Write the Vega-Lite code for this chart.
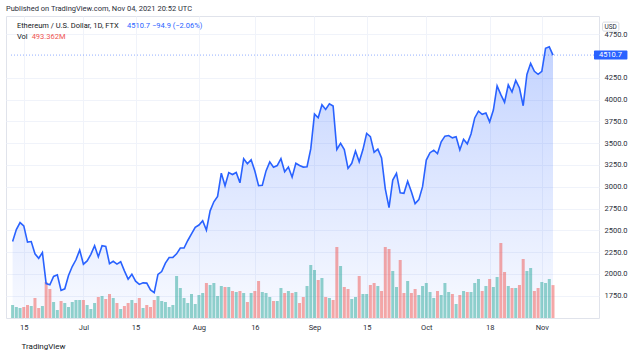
{
  "$schema": "https://vega.github.io/schema/vega-lite/v6.json",
  "width": 593,
  "height": 302,
  "autosize": "none",
  "padding": {"left": 6, "top": 16, "right": 41, "bottom": 40},
  "background": "#ffffff",
  "config": {
    "font": "Roboto",
    "view": {"stroke": "#e0e3eb", "strokeWidth": 1},
    "axis": {"labelFont": "Roboto", "titleFont": "Roboto"}
  },
  "title": {
    "text": "Published on TradingView.com, Nov 04, 2021 20:52 UTC",
    "anchor": "start",
    "frame": "group",
    "fontSize": 7.5,
    "fontWeight": "normal",
    "color": "#2a2e39",
    "offset": 4
  },
  "datasets": {
    "eth": [
      {"date": "2021-06-12", "close": 2372, "vol": 195, "dir": "u"},
      {"date": "2021-06-13", "close": 2510, "vol": 165, "dir": "u"},
      {"date": "2021-06-14", "close": 2590, "vol": 150, "dir": "u"},
      {"date": "2021-06-15", "close": 2552, "vol": 165, "dir": "d"},
      {"date": "2021-06-16", "close": 2366, "vol": 195, "dir": "d"},
      {"date": "2021-06-17", "close": 2372, "vol": 180, "dir": "u"},
      {"date": "2021-06-18", "close": 2232, "vol": 300, "dir": "d"},
      {"date": "2021-06-19", "close": 2180, "vol": 150, "dir": "d"},
      {"date": "2021-06-20", "close": 2245, "vol": 180, "dir": "u"},
      {"date": "2021-06-21", "close": 1890, "vol": 540, "dir": "d"},
      {"date": "2021-06-22", "close": 1875, "vol": 435, "dir": "d"},
      {"date": "2021-06-23", "close": 1972, "vol": 240, "dir": "u"},
      {"date": "2021-06-24", "close": 1990, "vol": 120, "dir": "u"},
      {"date": "2021-06-25", "close": 1812, "vol": 255, "dir": "d"},
      {"date": "2021-06-26", "close": 1830, "vol": 225, "dir": "u"},
      {"date": "2021-06-27", "close": 1983, "vol": 165, "dir": "u"},
      {"date": "2021-06-28", "close": 2085, "vol": 240, "dir": "u"},
      {"date": "2021-06-29", "close": 2163, "vol": 270, "dir": "u"},
      {"date": "2021-06-30", "close": 2275, "vol": 270, "dir": "u"},
      {"date": "2021-07-01", "close": 2112, "vol": 270, "dir": "d"},
      {"date": "2021-07-02", "close": 2150, "vol": 195, "dir": "u"},
      {"date": "2021-07-03", "close": 2225, "vol": 135, "dir": "u"},
      {"date": "2021-07-04", "close": 2325, "vol": 225, "dir": "u"},
      {"date": "2021-07-05", "close": 2197, "vol": 315, "dir": "d"},
      {"date": "2021-07-06", "close": 2324, "vol": 330, "dir": "u"},
      {"date": "2021-07-07", "close": 2317, "vol": 285, "dir": "d"},
      {"date": "2021-07-08", "close": 2117, "vol": 360, "dir": "d"},
      {"date": "2021-07-09", "close": 2145, "vol": 300, "dir": "u"},
      {"date": "2021-07-10", "close": 2113, "vol": 225, "dir": "d"},
      {"date": "2021-07-11", "close": 2140, "vol": 135, "dir": "u"},
      {"date": "2021-07-12", "close": 2036, "vol": 180, "dir": "d"},
      {"date": "2021-07-13", "close": 1941, "vol": 225, "dir": "d"},
      {"date": "2021-07-14", "close": 1997, "vol": 270, "dir": "u"},
      {"date": "2021-07-15", "close": 1918, "vol": 225, "dir": "d"},
      {"date": "2021-07-16", "close": 1880, "vol": 300, "dir": "d"},
      {"date": "2021-07-17", "close": 1898, "vol": 150, "dir": "u"},
      {"date": "2021-07-18", "close": 1895, "vol": 195, "dir": "d"},
      {"date": "2021-07-19", "close": 1818, "vol": 165, "dir": "d"},
      {"date": "2021-07-20", "close": 1787, "vol": 270, "dir": "d"},
      {"date": "2021-07-21", "close": 1995, "vol": 330, "dir": "u"},
      {"date": "2021-07-22", "close": 2028, "vol": 255, "dir": "u"},
      {"date": "2021-07-23", "close": 2124, "vol": 240, "dir": "u"},
      {"date": "2021-07-24", "close": 2189, "vol": 165, "dir": "u"},
      {"date": "2021-07-25", "close": 2190, "vol": 195, "dir": "u"},
      {"date": "2021-07-26", "close": 2231, "vol": 630, "dir": "u"},
      {"date": "2021-07-27", "close": 2298, "vol": 450, "dir": "u"},
      {"date": "2021-07-28", "close": 2298, "vol": 300, "dir": "u"},
      {"date": "2021-07-29", "close": 2384, "vol": 225, "dir": "u"},
      {"date": "2021-07-30", "close": 2461, "vol": 360, "dir": "u"},
      {"date": "2021-07-31", "close": 2536, "vol": 210, "dir": "u"},
      {"date": "2021-08-01", "close": 2561, "vol": 345, "dir": "u"},
      {"date": "2021-08-02", "close": 2610, "vol": 375, "dir": "u"},
      {"date": "2021-08-03", "close": 2503, "vol": 525, "dir": "d"},
      {"date": "2021-08-04", "close": 2724, "vol": 495, "dir": "u"},
      {"date": "2021-08-05", "close": 2828, "vol": 525, "dir": "u"},
      {"date": "2021-08-06", "close": 2890, "vol": 330, "dir": "u"},
      {"date": "2021-08-07", "close": 3157, "vol": 480, "dir": "u"},
      {"date": "2021-08-08", "close": 3012, "vol": 465, "dir": "d"},
      {"date": "2021-08-09", "close": 3163, "vol": 465, "dir": "u"},
      {"date": "2021-08-10", "close": 3141, "vol": 405, "dir": "d"},
      {"date": "2021-08-11", "close": 3164, "vol": 390, "dir": "u"},
      {"date": "2021-08-12", "close": 3046, "vol": 405, "dir": "d"},
      {"date": "2021-08-13", "close": 3322, "vol": 375, "dir": "u"},
      {"date": "2021-08-14", "close": 3265, "vol": 240, "dir": "d"},
      {"date": "2021-08-15", "close": 3310, "vol": 375, "dir": "u"},
      {"date": "2021-08-16", "close": 3180, "vol": 405, "dir": "d"},
      {"date": "2021-08-17", "close": 3013, "vol": 555, "dir": "d"},
      {"date": "2021-08-18", "close": 3018, "vol": 390, "dir": "u"},
      {"date": "2021-08-19", "close": 3182, "vol": 375, "dir": "u"},
      {"date": "2021-08-20", "close": 3286, "vol": 315, "dir": "u"},
      {"date": "2021-08-21", "close": 3225, "vol": 255, "dir": "d"},
      {"date": "2021-08-22", "close": 3243, "vol": 255, "dir": "u"},
      {"date": "2021-08-23", "close": 3322, "vol": 450, "dir": "u"},
      {"date": "2021-08-24", "close": 3173, "vol": 375, "dir": "d"},
      {"date": "2021-08-25", "close": 3227, "vol": 405, "dir": "u"},
      {"date": "2021-08-26", "close": 3110, "vol": 375, "dir": "d"},
      {"date": "2021-08-27", "close": 3269, "vol": 390, "dir": "u"},
      {"date": "2021-08-28", "close": 3244, "vol": 225, "dir": "d"},
      {"date": "2021-08-29", "close": 3226, "vol": 315, "dir": "d"},
      {"date": "2021-08-30", "close": 3230, "vol": 480, "dir": "u"},
      {"date": "2021-08-31", "close": 3434, "vol": 795, "dir": "u"},
      {"date": "2021-09-01", "close": 3834, "vol": 720, "dir": "u"},
      {"date": "2021-09-02", "close": 3791, "vol": 570, "dir": "d"},
      {"date": "2021-09-03", "close": 3942, "vol": 600, "dir": "u"},
      {"date": "2021-09-04", "close": 3887, "vol": 315, "dir": "d"},
      {"date": "2021-09-05", "close": 3952, "vol": 300, "dir": "u"},
      {"date": "2021-09-06", "close": 3927, "vol": 270, "dir": "d"},
      {"date": "2021-09-07", "close": 3428, "vol": 1065, "dir": "d"},
      {"date": "2021-09-08", "close": 3499, "vol": 780, "dir": "u"},
      {"date": "2021-09-09", "close": 3427, "vol": 465, "dir": "d"},
      {"date": "2021-09-10", "close": 3211, "vol": 435, "dir": "d"},
      {"date": "2021-09-11", "close": 3269, "vol": 285, "dir": "u"},
      {"date": "2021-09-12", "close": 3410, "vol": 315, "dir": "u"},
      {"date": "2021-09-13", "close": 3286, "vol": 630, "dir": "d"},
      {"date": "2021-09-14", "close": 3427, "vol": 360, "dir": "u"},
      {"date": "2021-09-15", "close": 3612, "vol": 360, "dir": "u"},
      {"date": "2021-09-16", "close": 3576, "vol": 495, "dir": "d"},
      {"date": "2021-09-17", "close": 3396, "vol": 525, "dir": "d"},
      {"date": "2021-09-18", "close": 3432, "vol": 480, "dir": "u"},
      {"date": "2021-09-19", "close": 3330, "vol": 405, "dir": "d"},
      {"date": "2021-09-20", "close": 2977, "vol": 1065, "dir": "d"},
      {"date": "2021-09-21", "close": 2760, "vol": 1035, "dir": "d"},
      {"date": "2021-09-22", "close": 3077, "vol": 705, "dir": "u"},
      {"date": "2021-09-23", "close": 3155, "vol": 465, "dir": "u"},
      {"date": "2021-09-24", "close": 2931, "vol": 870, "dir": "d"},
      {"date": "2021-09-25", "close": 2925, "vol": 375, "dir": "d"},
      {"date": "2021-09-26", "close": 3063, "vol": 555, "dir": "u"},
      {"date": "2021-09-27", "close": 2944, "vol": 375, "dir": "d"},
      {"date": "2021-09-28", "close": 2807, "vol": 435, "dir": "d"},
      {"date": "2021-09-29", "close": 2853, "vol": 345, "dir": "u"},
      {"date": "2021-09-30", "close": 3001, "vol": 480, "dir": "u"},
      {"date": "2021-10-01", "close": 3307, "vol": 525, "dir": "u"},
      {"date": "2021-10-02", "close": 3391, "vol": 390, "dir": "u"},
      {"date": "2021-10-03", "close": 3419, "vol": 300, "dir": "u"},
      {"date": "2021-10-04", "close": 3380, "vol": 405, "dir": "d"},
      {"date": "2021-10-05", "close": 3516, "vol": 345, "dir": "u"},
      {"date": "2021-10-06", "close": 3581, "vol": 525, "dir": "u"},
      {"date": "2021-10-07", "close": 3588, "vol": 390, "dir": "u"},
      {"date": "2021-10-08", "close": 3561, "vol": 360, "dir": "d"},
      {"date": "2021-10-09", "close": 3575, "vol": 210, "dir": "u"},
      {"date": "2021-10-10", "close": 3423, "vol": 345, "dir": "d"},
      {"date": "2021-10-11", "close": 3545, "vol": 405, "dir": "u"},
      {"date": "2021-10-12", "close": 3493, "vol": 390, "dir": "d"},
      {"date": "2021-10-13", "close": 3606, "vol": 390, "dir": "u"},
      {"date": "2021-10-14", "close": 3790, "vol": 525, "dir": "u"},
      {"date": "2021-10-15", "close": 3867, "vol": 585, "dir": "u"},
      {"date": "2021-10-16", "close": 3831, "vol": 405, "dir": "d"},
      {"date": "2021-10-17", "close": 3847, "vol": 480, "dir": "u"},
      {"date": "2021-10-18", "close": 3745, "vol": 585, "dir": "d"},
      {"date": "2021-10-19", "close": 3880, "vol": 465, "dir": "u"},
      {"date": "2021-10-20", "close": 4157, "vol": 615, "dir": "u"},
      {"date": "2021-10-21", "close": 4057, "vol": 1125, "dir": "d"},
      {"date": "2021-10-22", "close": 3970, "vol": 690, "dir": "d"},
      {"date": "2021-10-23", "close": 4170, "vol": 480, "dir": "u"},
      {"date": "2021-10-24", "close": 4087, "vol": 450, "dir": "d"},
      {"date": "2021-10-25", "close": 4220, "vol": 450, "dir": "u"},
      {"date": "2021-10-26", "close": 4133, "vol": 495, "dir": "d"},
      {"date": "2021-10-27", "close": 3930, "vol": 885, "dir": "d"},
      {"date": "2021-10-28", "close": 4288, "vol": 705, "dir": "u"},
      {"date": "2021-10-29", "close": 4416, "vol": 750, "dir": "u"},
      {"date": "2021-10-30", "close": 4325, "vol": 405, "dir": "d"},
      {"date": "2021-10-31", "close": 4290, "vol": 450, "dir": "d"},
      {"date": "2021-11-01", "close": 4325, "vol": 540, "dir": "u"},
      {"date": "2021-11-02", "close": 4588, "vol": 525, "dir": "u"},
      {"date": "2021-11-03", "close": 4605, "vol": 585, "dir": "u"},
      {"date": "2021-11-04", "close": 4510.7, "vol": 493.362, "dir": "d"}
    ]
  },
  "data": {"name": "eth"},
  "encoding": {
    "x": {
      "field": "date",
      "type": "temporal",
      "scale": {"type": "utc", "domain": [1623418800000, 1636934400000]},
      "axis": {
        "values": [1623715200000, 1625097600000, 1626307200000, 1627776000000, 1629072000000, 1630454400000, 1631664000000, 1633046400000, 1634515200000, 1635724800000],
        "labelExpr": "utcFormat(datum.value, '%d') == '01' ? utcFormat(datum.value, '%b') : utcFormat(datum.value, '%d')",
        "grid": true,
        "gridColor": "#f0f3fa",
        "gridWidth": 1,
        "ticks": false,
        "domain": false,
        "labelFontSize": 7.5,
        "labelColor": "#2a2e39",
        "labelPadding": 5,
        "title": "TradingView",
        "titleAnchor": "start",
        "titleAlign": "left",
        "titleX": 15,
        "titleY": 28,
        "titleBaseline": "middle",
        "titleFontSize": 8,
        "titleFontWeight": "normal",
        "titleColor": "#131722"
      }
    }
  },
  "layer": [
    {
      "mark": {
        "type": "area",
        "color": {
          "gradient": "linear",
          "x1": 0, "y1": 0, "x2": 0, "y2": 1,
          "stops": [
            {"offset": 0, "color": "rgba(41,98,255,0.28)"},
            {"offset": 1, "color": "rgba(41,98,255,0.03)"}
          ]
        }
      },
      "encoding": {
        "y": {"field": "close", "type": "quantitative", "scale": {"domain": [1495, 4959], "zero": false, "nice": false}, "axis": null},
        "y2": {"datum": 1495}
      }
    },
    {
      "mark": {"type": "bar", "size": 3, "opacity": 0.5},
      "encoding": {
        "y": {"field": "vol", "type": "quantitative", "scale": {"domain": [0, 4530], "nice": false}, "axis": null},
        "color": {"field": "dir", "type": "nominal", "scale": {"domain": ["u", "d"], "range": ["#26a69a", "#ef5350"]}, "legend": null}
      }
    },
    {
      "encoding": {
        "y": {
          "field": "close",
          "type": "quantitative",
          "scale": {"domain": [1495, 4959], "zero": false, "nice": false},
          "axis": {
            "orient": "right",
            "values": [1750, 2000, 2250, 2500, 2750, 3000, 3250, 3500, 3750, 4000, 4250, 4750],
            "format": ".1f",
            "grid": true,
            "gridColor": "#f0f3fa",
            "ticks": false,
            "domain": false,
            "labelFontSize": 7.5,
            "labelColor": "#2a2e39",
            "labelPadding": 5,
            "title": null
          }
        }
      },
      "layer": [
        {"mark": {"type": "line", "color": "#2962ff", "strokeWidth": 1.6}},
        {
          "transform": [{"filter": "datum.vol == 493.362"}],
          "layer": [
            {
              "mark": {"type": "rule", "color": "#2962ff", "strokeDash": [1, 2], "opacity": 0.5, "strokeWidth": 1},
              "encoding": {
                "x": {"datum": 1623418800000, "type": "temporal", "scale": {"type": "utc", "domain": [1623418800000, 1636934400000]}},
                "x2": {"datum": 1636934400000},
                "y": {"datum": 4510.7, "type": "quantitative", "scale": {"domain": [1495, 4959], "zero": false, "nice": false}}
              }
            },
            {
              "mark": {"type": "rect", "color": "#2962ff", "cornerRadius": 1},
              "encoding": {
                "x": {"datum": 1636934400000, "type": "temporal", "scale": {"type": "utc", "domain": [1623418800000, 1636934400000]}},
                "x2": {"datum": 1637709400000},
                "y": {"datum": 4562, "type": "quantitative", "scale": {"domain": [1495, 4959], "zero": false, "nice": false}},
                "y2": {"datum": 4459}
              }
            },
            {
              "mark": {"type": "text", "text": "4510.7", "color": "#ffffff", "fontSize": 7.5, "align": "left", "baseline": "middle"},
              "encoding": {
                "x": {"datum": 1637048400000, "type": "temporal", "scale": {"type": "utc", "domain": [1623418800000, 1636934400000]}},
                "y": {"datum": 4510.7, "type": "quantitative", "scale": {"domain": [1495, 4959], "zero": false, "nice": false}}
              }
            },
            {
              "mark": {"type": "rect", "fill": "#ffffff", "stroke": "#d1d4dc", "strokeWidth": 0.8, "cornerRadius": 1.5},
              "encoding": {
                "x": {"datum": 1637132400000, "type": "temporal", "scale": {"type": "utc", "domain": [1623418800000, 1636934400000]}},
                "x2": {"datum": 1637510900000},
                "y": {"datum": 4889, "type": "quantitative", "scale": {"domain": [1495, 4959], "zero": false, "nice": false}},
                "y2": {"datum": 4786}
              }
            },
            {
              "mark": {"type": "text", "text": "USD", "color": "#2a2e39", "fontSize": 6.5, "align": "center", "baseline": "middle"},
              "encoding": {
                "x": {"datum": 1637321700000, "type": "temporal", "scale": {"type": "utc", "domain": [1623418800000, 1636934400000]}},
                "y": {"datum": 4838, "type": "quantitative", "scale": {"domain": [1495, 4959], "zero": false, "nice": false}}
              }
            },
            {
              "mark": {"type": "text", "text": "Ethereum / U.S. Dollar, 1D, FTX", "color": "#131722", "fontSize": 7.5, "align": "left", "baseline": "middle"},
              "encoding": {
                "x": {"datum": 1623555600000, "type": "temporal", "scale": {"type": "utc", "domain": [1623418800000, 1636934400000]}},
                "y": {"datum": 4840, "type": "quantitative", "scale": {"domain": [1495, 4959], "zero": false, "nice": false}}
              }
            },
            {
              "mark": {"type": "text", "text": "4510.7  −94.9 (−2.06%)", "color": "#2962ff", "fontSize": 7.5, "align": "left", "baseline": "middle"},
              "encoding": {
                "x": {"datum": 1626108400000, "type": "temporal", "scale": {"type": "utc", "domain": [1623418800000, 1636934400000]}},
                "y": {"datum": 4840, "type": "quantitative", "scale": {"domain": [1495, 4959], "zero": false, "nice": false}}
              }
            },
            {
              "mark": {"type": "text", "text": "Vol", "color": "#131722", "fontSize": 7.5, "align": "left", "baseline": "middle"},
              "encoding": {
                "x": {"datum": 1623555600000, "type": "temporal", "scale": {"type": "utc", "domain": [1623418800000, 1636934400000]}},
                "y": {"datum": 4714, "type": "quantitative", "scale": {"domain": [1495, 4959], "zero": false, "nice": false}}
              }
            },
            {
              "mark": {"type": "text", "text": "493.362M", "color": "#ef5350", "fontSize": 7.5, "align": "left", "baseline": "middle"},
              "encoding": {
                "x": {"datum": 1623897500000, "type": "temporal", "scale": {"type": "utc", "domain": [1623418800000, 1636934400000]}},
                "y": {"datum": 4714, "type": "quantitative", "scale": {"domain": [1495, 4959], "zero": false, "nice": false}}
              }
            }
          ]
        }
      ]
    }
  ],
  "resolve": {"scale": {"y": "independent"}}
}
